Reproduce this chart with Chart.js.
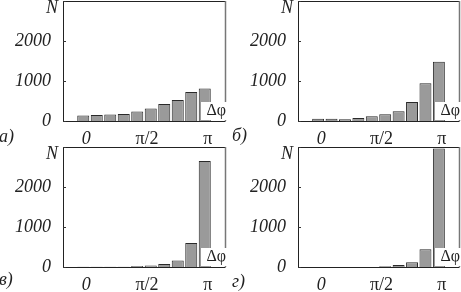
<!DOCTYPE html>
<html>
<head>
<meta charset="utf-8">
<script src="https://cdn.jsdelivr.net/npm/chart.js@4/dist/chart.umd.min.js"></script>
<style>
  html, body { margin: 0; padding: 0; background: #fff; }
  #wrap { position: relative; width: 461px; height: 292px; overflow: hidden; background: #fff; }
  canvas { position: absolute; }
  .plab { position: absolute; font-family: 'Liberation Serif', serif; font-style: italic; font-size: 18px; color: #222; line-height: 1; }
</style>
</head>
<body>
<div id="wrap">
  <canvas id="cA" width="230" height="146" style="left:0;top:0"></canvas>
  <canvas id="cB" width="231" height="146" style="left:230px;top:0"></canvas>
  <canvas id="cC" width="230" height="146" style="left:0;top:146px"></canvas>
  <canvas id="cD" width="231" height="146" style="left:230px;top:146px"></canvas>
  <div class="plab" style="left:-1px;top:127px">а)</div>
  <div class="plab" style="left:232px;top:126px">б)</div>
  <div class="plab" style="left:-1px;top:270px">в)</div>
  <div class="plab" style="left:232px;top:272px">г)</div>
</div>
<script>
// ---- data ----
const BINS = [0, 1, 2, 3, 4, 5, 6, 7, 8, 9];          // Δφ bins from 0 to π
const X_TICK_BINS = [0, 4.5, 9];
const X_TICK_LABELS = ['0', 'π/2', 'π'];
const Y_TICK_LABELS = [0, 1000, 2000];
const seriesA = [140, 150, 165, 175, 240, 315, 425, 525, 725, 815];
const seriesB = [58, 58, 42, 75, 117, 167, 242, 475, 942, 1483];
const seriesC = [5, 5, 5, 5, 25, 35, 75, 165, 600, 2650];
const seriesD = [3, 3, 3, 3, 3, 17, 50, 117, 442, 2965];
const Y_LABEL = 'N';
const X_LABEL = 'Δφ';

const SERIF = "'Liberation Serif', 'Times New Roman', serif";

const decor = {
  id: 'decor',
  afterDatasetsDraw(chart) {
    const { ctx, chartArea: { left, right, top, bottom }, scales: { y } } = chart;
    ctx.save();
    // frame
    ctx.lineWidth = 1;
    ctx.strokeStyle = '#222';
    ctx.beginPath();
    ctx.moveTo(left + 0.5, top + 0.5);
    ctx.lineTo(left + 0.5, bottom + 0.5);
    ctx.lineTo(right + 0.5, bottom + 0.5);
    ctx.moveTo(left + 0.5, top + 0.5);
    ctx.lineTo(right + 0.5, top + 0.5);
    ctx.stroke();
    ctx.strokeStyle = '#777';
    ctx.lineWidth = 1.5;
    ctx.beginPath();
    ctx.moveTo(right + 0.5, top);
    ctx.lineTo(right + 0.5, bottom);
    ctx.stroke();
    // inward tick marks on y axis
    ctx.strokeStyle = '#333';
    ctx.lineWidth = 1;
    y.ticks.forEach(t => {
      const py = Math.round(y.getPixelForValue(t.value)) + 0.5;
      ctx.beginPath();
      ctx.moveTo(left, py);
      ctx.lineTo(left + 3, py);
      ctx.stroke();
    });
    // N label
    ctx.fillStyle = '#222';
    ctx.font = 'italic 18px ' + SERIF;
    ctx.textAlign = 'right';
    ctx.textBaseline = 'alphabetic';
    ctx.fillText(Y_LABEL, left - 5, top + 12);
    // Δφ label with white box
    ctx.fillStyle = '#fff';
    ctx.fillRect(right - 24, bottom - 19, 26, 18);
    ctx.fillStyle = '#222';
    ctx.font = '16px ' + SERIF;
    ctx.textAlign = 'right';
    ctx.fillText(X_LABEL, right + 1, bottom - 6);
    ctx.restore();
  }
};

function makeChart(id, values, leftW, rightPad) {
  new Chart(document.getElementById(id), {
    type: 'bar',
    data: {
      datasets: [{
        data: BINS.map((b, i) => ({ x: b, y: values[i] })),
        backgroundColor: '#9a9a9a',
        borderColor: '#2a2a2a',
        borderWidth: 1,
        borderSkipped: 'start',
        barPercentage: 0.89,
        categoryPercentage: 1
      }]
    },
    options: {
      responsive: false,
      animation: false,
      devicePixelRatio: 1,
      layout: { padding: { top: 1, right: rightPad, left: 0, bottom: 0 } },
      plugins: { legend: { display: false }, tooltip: { enabled: false } },
      scales: {
        x: {
          type: 'linear',
          offset: false,
          min: -1.5,
          max: 10.5,
          afterBuildTicks: s => { s.ticks = X_TICK_BINS.map(v => ({ value: v })); },
          ticks: {
            autoSkip: false,
            maxRotation: 0,
            padding: 1,
            labelOffset: 3,
            color: '#222',
            font: c => ({ family: SERIF, size: 18, lineHeight: 1, style: c.index === 0 ? 'italic' : 'normal' }),
            callback: (v, i) => X_TICK_LABELS[i]
          },
          grid: { display: false },
          border: { display: false },
          afterFit: s => { s.height = 25; s.paddingLeft = 0; s.paddingRight = 0; }
        },
        y: {
          min: 0,
          max: 3000,
          ticks: {
            stepSize: 500,
            padding: 4,
            color: '#222',
            font: { family: SERIF, size: 18, style: 'italic' },
            callback: v => Y_TICK_LABELS.includes(v) ? String(v) : ''
          },
          grid: { display: false },
          border: { display: false },
          afterFit: s => { s.width = leftW; s.paddingTop = 0; s.paddingBottom = 0; }
        }
      }
    },
    plugins: [decor]
  });
}

makeChart('cA', seriesA, 63, 5);
makeChart('cB', seriesB, 68, 2);
makeChart('cC', seriesC, 63, 5);
makeChart('cD', seriesD, 68, 2);
</script>
</body>
</html>
